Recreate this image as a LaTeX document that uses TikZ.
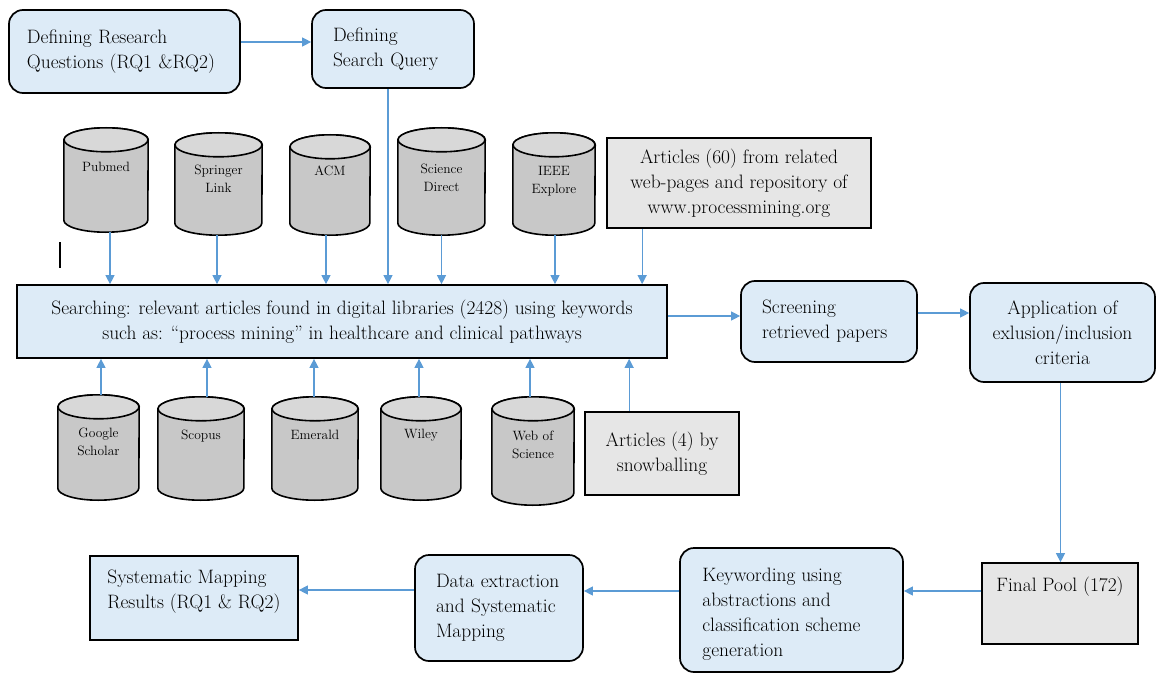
\documentclass[tikz,border=0pt]{standalone}
\usetikzlibrary{arrows.meta,calc}
\definecolor{boxblue}{HTML}{DDEBF7}
\definecolor{arrowblue}{HTML}{5B9BD5}
\definecolor{cylgray}{HTML}{C8C8C8}
\definecolor{cyltop}{HTML}{D8D8D8}
\definecolor{artgray}{HTML}{E6E6E6}
% #1 node name, #2 half width (pt)
\newcommand\drawcyl[2]{%
  \path[fill=cylgray,draw=black,line width=1.6pt]
    ([yshift=-12pt]#1.north west) -- ([yshift=12pt]#1.south west)
    arc[start angle=180,end angle=360,x radius=#2pt,y radius=12pt]
    -- ([yshift=-12pt]#1.north east)
    arc[start angle=0,end angle=180,x radius=#2pt,y radius=12pt] -- cycle;
  \draw[fill=cyltop,line width=1.6pt] ([yshift=-12pt]#1.north) ellipse[x radius=#2pt,y radius=12pt];
}
\tikzset{
  bigfont/.style={font=\fontsize{19.4}{25}\selectfont},
  bluebox/.style={draw=black,line width=1.7pt,fill=boxblue,bigfont,inner ysep=0pt},
  lbox/.style={bluebox,align=left,inner xsep=21pt},
  rbox/.style={lbox,rounded corners=14pt},
  graybox/.style={draw=black,line width=1.7pt,fill=artgray,bigfont,align=center,inner sep=0pt},
  plaintext/.style={bigfont,align=left,inner sep=0pt,anchor=north west},
  conn/.style={draw=arrowblue,line width=1.2pt,-{Triangle[length=9pt,width=9pt]}},
  cylnode/.style={inner sep=0pt},
  cyltext/.style={font=\fontsize{13.5}{18}\selectfont,align=center,anchor=north,inner sep=0pt},
}
\begin{document}
\begin{tikzpicture}[x=1pt,y=1pt]
\useasboundingbox (0,0) rectangle (1156,-674);

% top boxes
\node[rbox,inner xsep=18pt,text width=195pt,minimum height=83pt] (rq) at (124.5,-51.5) {Defining Research\\Questions (RQ1 \&RQ2)};
\node[rbox,text width=120pt,minimum height=78pt] (sq) at (393,-49) {Defining\\Search Query};

% top cylinders
\node[cylnode,minimum width=84pt,minimum height=104pt] (pub) at (106,-180) {};
\node[cylnode,minimum width=87pt,minimum height=102pt] (spr) at (218.5,-184) {};
\node[cylnode,minimum width=80pt,minimum height=100pt] (acm) at (330,-185) {};
\node[cylnode,minimum width=87pt,minimum height=107pt] (sd) at (441.5,-181.5) {};
\node[cylnode,minimum width=82pt,minimum height=102pt] (ieee) at (554,-184) {};
\drawcyl{pub}{42}\drawcyl{spr}{43.5}\drawcyl{acm}{40}\drawcyl{sd}{43.5}\drawcyl{ieee}{41}
\node[cyltext] (pubt) at ([yshift=-34pt]pub.north) {Pubmed};
\node[cyltext] (sprt) at ([yshift=-32pt]spr.north) {Springer\\Link};
\node[cyltext] (acmt) at ([yshift=-31pt]acm.north) {ACM};
\node[cyltext] (sdt) at ([yshift=-35.5pt]sd.north) {Science\\Direct};
\node[cyltext] (ieeet) at ([yshift=-33pt]ieee.north) {IEEE\\Explore};

\node[graybox,minimum width=264pt,minimum height=90pt] (a60) at (739,-183) {Articles (60) from related\\web-pages and repository of\\www.processmining.org};

% stray mark
\draw[line width=1.3pt] (60,-242) coordinate (m1) -- (60,-268) coordinate (m2);

% search box
\node[bluebox,align=center,minimum width=650pt,minimum height=73pt,inner xsep=0pt] (srch) at (342,-321.5)
  {Searching: relevant articles found in digital libraries (2428) using keywords\\such as: ``process mining'' in healthcare and clinical pathways};

% bottom cylinders
\node[cylnode,minimum width=81pt,minimum height=105pt] (gs) at (98.5,-447.5) {};
\node[cylnode,minimum width=86pt,minimum height=103pt] (sco) at (201,-448.5) {};
\node[cylnode,minimum width=86pt,minimum height=103pt] (eme) at (315,-448.5) {};
\node[cylnode,minimum width=80pt,minimum height=103pt] (wil) at (421,-448.5) {};
\node[cylnode,minimum width=82pt,minimum height=108pt] (wos) at (533,-451) {};
\drawcyl{gs}{40.5}\drawcyl{sco}{43}\drawcyl{eme}{43}\drawcyl{wil}{40}\drawcyl{wos}{41}
\node[cyltext] (gst) at ([yshift=-32.5pt]gs.north) {Google\\Scholar};
\node[cyltext] (scot) at ([yshift=-33pt]sco.north) {Scopus};
\node[cyltext] (emet) at ([yshift=-33pt]eme.north) {Emerald};
\node[cyltext] (wilt) at ([yshift=-32pt]wil.north) {Wiley};
\node[cyltext] (wost) at ([yshift=-34pt]wos.north) {Web of\\Science};

\node[graybox,minimum width=154pt,minimum height=83pt] (a4) at (662,-453.5) {Articles (4) by\\snowballing};

% right side
\node[rbox,text width=134pt,minimum height=81pt] (scr) at (829,-321.5) {Screening\\retrieved papers};
\node[bluebox,rounded corners=14pt,align=center,minimum width=185pt,minimum height=99pt,inner xsep=0pt] (app) at (1062.5,-332.5) {Application of\\exlusion/inclusion\\criteria};
\node[draw=black,line width=1.7pt,fill=artgray,minimum width=156pt,minimum height=81pt,inner sep=0pt] (fp) at (1060,-603.5) {};
\node[bigfont,anchor=north,inner sep=0pt] (fpt) at ([yshift=-15pt]fp.north) {Final Pool (172)};

% bottom row
\node[bluebox,rounded corners=14pt,minimum width=223pt,minimum height=124pt,inner sep=0pt] (kw) at (791.5,-610) {};
\node[plaintext] (kwt) at ([xshift=23pt,yshift=-21pt]kw.north west) {Keywording using\\abstractions and\\classification scheme\\generation};
\node[rbox,text width=126pt,minimum height=106pt] (de) at (499,-608) {Data extraction\\and Systematic\\Mapping};
\node[bluebox,minimum width=208pt,minimum height=84pt,inner sep=0pt] (smr) at (194,-598) {};
\node[plaintext] (smrt) at ([xshift=18pt,yshift=-15pt]smr.north west) {Systematic Mapping\\Results (RQ1 \& RQ2)};

% connectors
\draw[conn] (rq.east |- 0,-42) -- (sq.west |- 0,-42);
\draw[conn] ([xshift=-5pt]sq.south) -- ([xshift=-5pt]sq.south |- srch.north);
\foreach \n/\d in {pub/4,spr/-1.5,acm/-4,sd/0,ieee/1}
  \draw[conn] ([xshift=\d pt]\n.south) -- ([xshift=\d pt]\n.south |- srch.north);
\draw[conn] ([xshift=36pt]a60.south west) -- ([xshift=36pt]a60.south west |- srch.north);
\foreach \n/\d in {gs/2.5,sco/6,eme/-1,wil/-2,wos/-3}
  \draw[conn] ([xshift=\d pt]\n.north) -- ([xshift=\d pt]\n.north |- srch.south);
\draw[conn] ([xshift=45pt]a4.north west) -- ([xshift=45pt]a4.north west |- srch.south);
\draw[conn] (srch.east |- 0,-316) -- (scr.west |- 0,-316);
\draw[conn] (scr.east |- 0,-313) -- (app.west |- 0,-313);
\draw[conn] ([xshift=-2pt]app.south) -- ([xshift=-2pt]app.south |- fp.north);
\draw[conn] (fp.west |- 0,-591) -- (kw.east |- 0,-591);
\draw[conn] (kw.west |- 0,-591) -- (de.east |- 0,-591);
\draw[conn] (de.west |- 0,-590) -- (smr.east |- 0,-590);
\end{tikzpicture}
\end{document}
